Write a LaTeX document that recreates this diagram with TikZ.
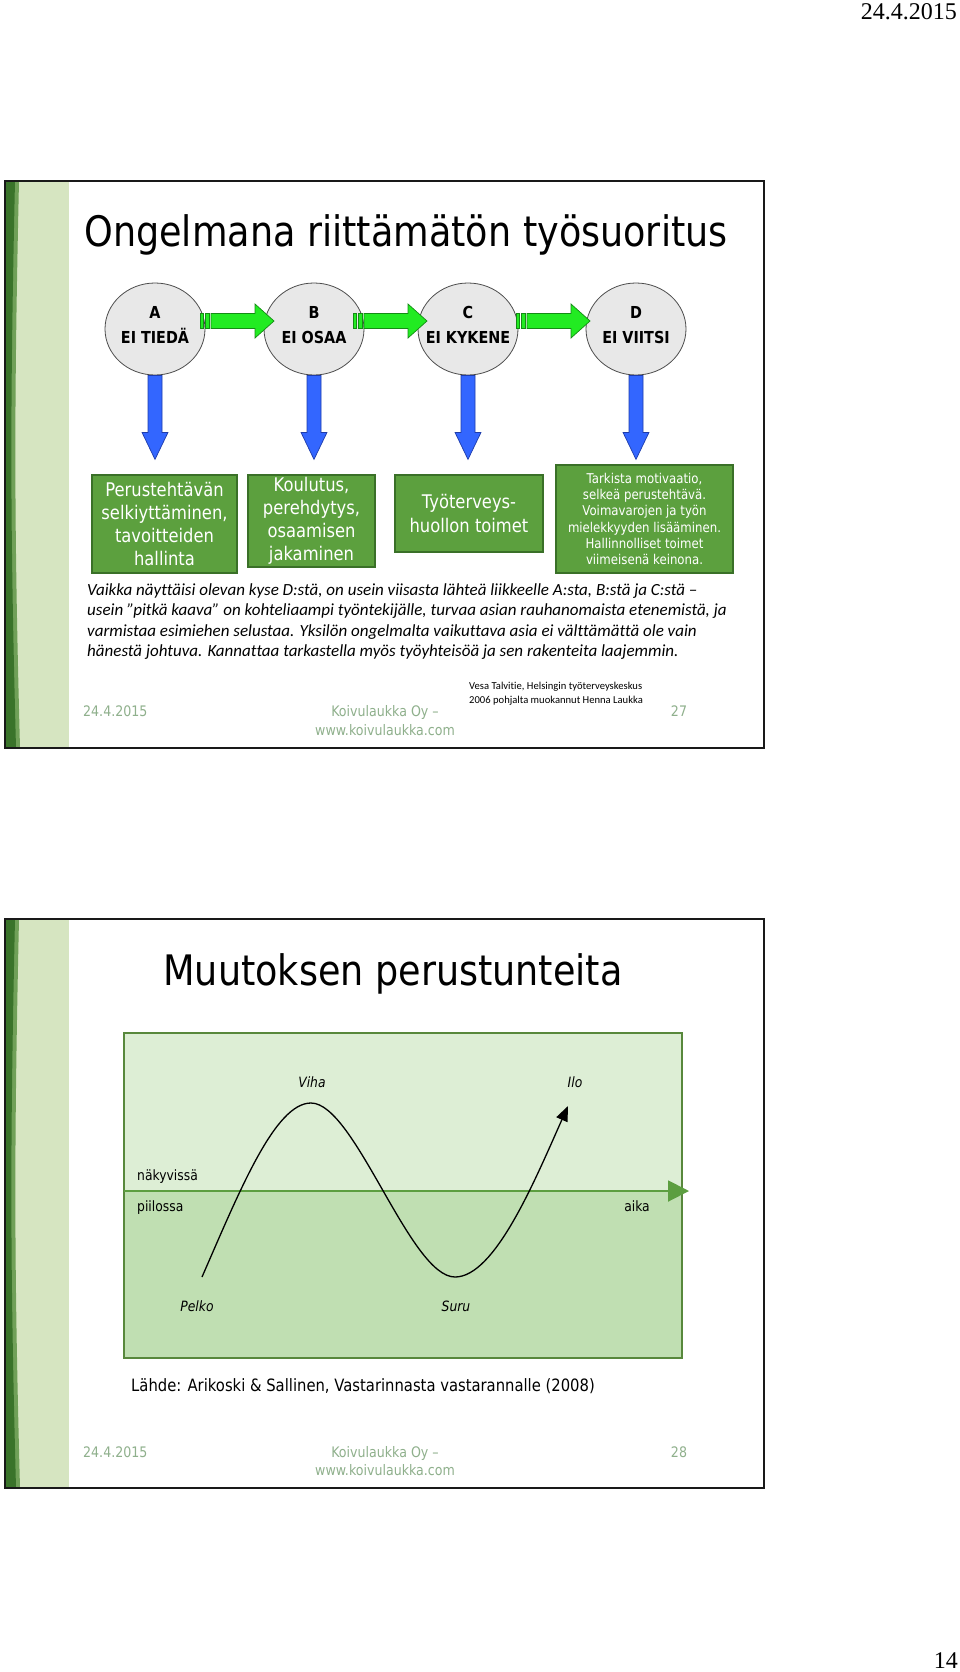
\documentclass[tikz,border=0pt]{standalone}
\usepackage{fontspec}
\setmainfont{DejaVu Sans}
\newfontfamily\tah[FakeStretch=0.87]{DejaVu Sans}
\newfontfamily\calfont[Ligatures=NoCommon]{Carlito}
\newfontfamily\tmsfont{Liberation Serif}
\usetikzlibrary{arrows.meta,shapes.geometric,calc}

\definecolor{bandlight}{RGB}{214,229,193}
\definecolor{banddark}{RGB}{58,115,42}
\definecolor{bandmid}{RGB}{112,160,88}
\definecolor{boxgreen}{RGB}{92,160,62}
\definecolor{boxedge}{RGB}{58,112,40}
\definecolor{arrblue}{RGB}{51,102,255}
\definecolor{arrblueedge}{RGB}{30,60,170}
\definecolor{arrgreen}{RGB}{34,235,34}
\definecolor{arrgreenedge}{RGB}{20,140,20}
\definecolor{circfill}{RGB}{232,232,232}
\definecolor{foot}{RGB}{143,176,140}
\definecolor{chtop}{RGB}{221,238,213}
\definecolor{chbot}{RGB}{192,223,178}
\definecolor{chedge}{RGB}{88,136,60}
\definecolor{axisgreen}{RGB}{92,158,64}

\tikzset{
  slideframe/.style={draw=black!90, line width=1.6pt},
  circnode/.style={ellipse, draw=black!70, line width=0.8pt, fill=circfill, minimum width=100pt, minimum height=92pt, inner sep=0pt},
  circtext/.style={font=\tah\bfseries\fontsize{16.5}{25}\selectfont, align=center, inner sep=0pt},
  gbox/.style={draw=boxedge, line width=1.3pt, fill=boxgreen, text=white, align=center, inner sep=0pt, font=\tah\fontsize{18.8}{22.8}\selectfont},
  gboxsmall/.style={gbox, font=\tah\fontsize{13.5}{16.3}\selectfont},
  bluearr/.style={fill=arrblue, draw=arrblueedge, line width=0.7pt},
  greenarr/.style={fill=arrgreen, draw=arrgreenedge, line width=0.7pt},
  para/.style={font=\calfont\itshape\fontsize{17}{20.6}\selectfont, anchor=base west, inner sep=0pt},
  credit/.style={font=\calfont\fontsize{10.6}{14}\selectfont, anchor=base west, inner sep=0pt},
  foottext/.style={font=\tah\fontsize{14.5}{19}\selectfont, text=foot, inner sep=0pt},
  slidetitle/.style={font=\tah\fontsize{42}{50}\selectfont, anchor=base, inner sep=0pt},
  chlabel/.style={font=\tah\fontsize{14.2}{17}\selectfont, inner sep=0pt},
  chital/.style={font=\tah\itshape\fontsize{14.2}{17}\selectfont, inner sep=0pt},
  pagetext/.style={font=\tmsfont\fontsize{24}{28}\selectfont, anchor=base east, inner sep=0pt},
}

\newcommand\slideband[2]{%
  \fill[bandlight] (5,#1) rectangle (69,#2);
  \fill[bandmid] (5,#1) -- (19,#1) .. controls (14,{#1+0.4*(#2-#1)}) and (14,{#1+0.6*(#2-#1)}) .. (20,#2) -- (5,#2) -- cycle;
  \fill[banddark] (5,#1) -- (15,#1) .. controls (10,{#1+0.4*(#2-#1)}) and (10,{#1+0.6*(#2-#1)}) .. (16,#2) -- (5,#2) -- cycle;
}
\newcommand\bluedown[1]{%
  \draw[bluearr] ($(#1.south)+(-7,0)$) -- ++(0,57) -- ++(-6,0) -- ++(13,27) -- ++(13,-27) -- ++(-6,0) -- ++(0,-57) -- cycle;
}
\newcommand\greenright[1]{%
  \draw[greenarr] ($(#1)+(0,-7.5)$) rectangle ++(3,15);
  \draw[greenarr] ($(#1)+(5,-7.5)$) rectangle ++(4,15);
  \draw[greenarr] ($(#1)+(11,-7.5)$) -- ++(44,0) -- ++(0,-9.5) -- ++(19,17) -- ++(-19,17) -- ++(0,-9.5) -- ++(-44,0) -- cycle;
}

\begin{document}
\begin{tikzpicture}[x=1pt,y=-1pt]
\useasboundingbox (0,0) rectangle (960,1672);
\fill[white] (0,0) rectangle (960,1672);

\node[pagetext] (hdate) at (957,20) {24.4.2015};
\node[pagetext] (pnum) at (958,1668) {14};

% ---------------- slide 1 ----------------
\slideband{181}{748}
\draw[slideframe] (5,181) rectangle (764,748);

\node[slidetitle] (t1) at (406,246) {Ongelmana riittämätön työsuoritus};

\node[circnode] (A) at (155,329) {};
\node[circnode] (B) at (314,329) {};
\node[circnode] (C) at (468,329) {};
\node[circnode] (D) at (636,329) {};
\node[circtext] (At) at (155,325) {A\\EI TIEDÄ};
\node[circtext] (Bt) at (314,325) {B\\EI OSAA};
\node[circtext] (Ct) at (468,325) {C\\EI KYKENE};
\node[circtext] (Dt) at (636,325) {D\\EI VIITSI};

\coordinate (ab) at (200,321);
\coordinate (bc) at (353,321);
\coordinate (cd) at (516,321);
\greenright{ab}
\greenright{bc}
\greenright{cd}

\bluedown{A}
\bluedown{B}
\bluedown{C}
\bluedown{D}

\node[gbox, minimum width=145pt, minimum height=98pt] (b1) at (164.5,524)
  {Perustehtävän\\selkiyttäminen,\\tavoitteiden\\hallinta};
\node[gbox, minimum width=127pt, minimum height=92pt] (b2) at (311.5,521)
  {Koulutus,\\perehdytys,\\osaamisen\\jakaminen};
\node[gbox, minimum width=148pt, minimum height=77pt, font=\tah\fontsize{18.8}{24.5}\selectfont] (b3) at (469,513.5)
  {Työterveys-\\huollon toimet};
\node[gboxsmall, minimum width=177pt, minimum height=108pt] (b4) at (644.5,519)
  {Tarkista motivaatio,\\selkeä perustehtävä.\\Voimavarojen ja työn\\mielekkyyden lisääminen.\\Hallinnolliset toimet\\viimeisenä keinona.};

\node[para] (p1) at (87,595) {Vaikka näyttäisi olevan kyse D:stä, on usein viisasta lähteä liikkeelle A:sta, B:stä ja C:stä –};
\node[para] (p2) at (87,615.6) {usein ”pitkä kaava” on kohteliaampi työntekijälle, turvaa asian rauhanomaista etenemistä, ja};
\node[para] (p3) at (87,636.2) {varmistaa esimiehen selustaa. Yksilön ongelmalta vaikuttava asia ei välttämättä ole vain};
\node[para] (p4) at (87,656.8) {hänestä johtuva. Kannattaa tarkastella myös työyhteisöä ja sen rakenteita laajemmin.};

\node[credit] (cr1) at (469,689) {Vesa Talvitie, Helsingin työterveyskeskus};
\node[credit] (cr2) at (469,703) {2006 pohjalta muokannut Henna Laukka};

\node[foottext, anchor=base west] (f1d) at (83,716) {24.4.2015};
\node[foottext, anchor=base] (f1k) at (385,716) {Koivulaukka Oy –};
\node[foottext, anchor=base] (f1w) at (385,735) {www.koivulaukka.com};
\node[foottext, anchor=base] (f1n) at (679,716) {27};

% ---------------- slide 2 ----------------
\slideband{919}{1488}
\draw[slideframe] (5,919) rectangle (764,1488);

\node[slidetitle] (t2) at (393,985) {Muutoksen perustunteita};

\fill[chtop] (124,1033) rectangle (682,1191);
\fill[chbot] (124,1191) rectangle (682,1358);
\draw[chedge, line width=1.5pt] (124,1033) rectangle (682,1358);

\coordinate (axl) at (124,1191);
\coordinate (axr) at (689,1191);
\draw[axisgreen, line width=2pt, -{Triangle[length=21pt,width=21pt]}] (axl) -- (axr);

\coordinate (cs) at (202,1277);
\coordinate (cpk) at (311,1103);
\coordinate (ctr) at (455,1277);
\coordinate (ce) at (568,1106);
\draw[black, line width=1.3pt, -{Triangle[length=15pt,width=12pt]}]
  (cs) .. controls (240,1190) and (275,1103) .. (cpk)
       .. controls (355,1103) and (410,1277) .. (ctr)
       .. controls (495,1277) and (535,1180) .. (ce);

\node[chital] (viha) at (312,1082) {Viha};
\node[chital] (ilo) at (575,1082) {Ilo};
\node[chlabel, anchor=base west] (nak) at (137,1180) {näkyvissä};
\node[chlabel, anchor=base west] (pii) at (137,1211) {piilossa};
\node[chlabel, anchor=base] (aika) at (637,1211) {aika};
\node[chital] (pelko) at (197,1306) {Pelko};
\node[chital] (suru) at (456,1306) {Suru};

\node[font=\tah\fontsize{17}{20}\selectfont, anchor=base west, inner sep=0pt] (lahde) at (131,1391)
  {Lähde: Arikoski \& Sallinen, Vastarinnasta vastarannalle (2008)};

\node[foottext, anchor=base west] (f2d) at (83,1457) {24.4.2015};
\node[foottext, anchor=base] (f2k) at (385,1457) {Koivulaukka Oy –};
\node[foottext, anchor=base] (f2w) at (385,1475) {www.koivulaukka.com};
\node[foottext, anchor=base] (f2n) at (679,1457) {28};
\end{tikzpicture}
\end{document}
